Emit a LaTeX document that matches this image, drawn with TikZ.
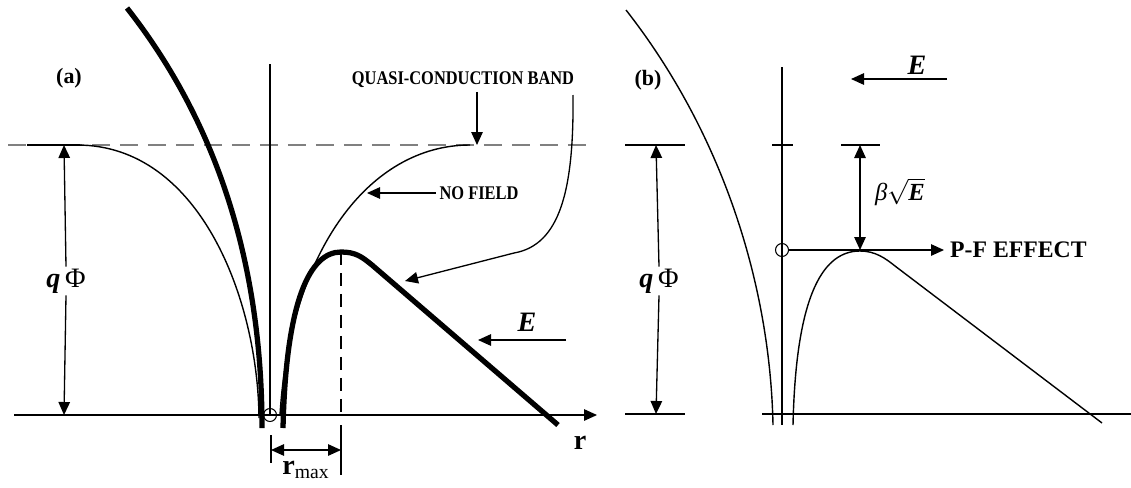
\documentclass[tikz,border=0pt]{standalone}
\usepackage{fontspec}
\usepackage{graphicx}
\setmainfont{Liberation Serif}
\usetikzlibrary{arrows.meta}

\begin{document}
\begin{tikzpicture}[
    x=0.02cm, y=-0.02cm,
    >={Triangle[length=2.6mm, width=2.3mm]},
    potline/.style={line width=0.8pt},
    fieldline/.style={line width=3pt},
    bandline/.style={draw=black!50, line width=0.9pt, dash pattern=on 3.6mm off 2mm},
    guideline/.style={line width=0.75pt, dash pattern=on 2.6mm off 1.6mm},
    dimline/.style={<->, line width=0.75pt},
    pointer/.style={->, line width=0.75pt},
    capstext/.style={font=\fontsize{11}{12}\selectfont\bfseries, inner sep=2pt},
    panellabel/.style={font=\fontsize{12.5}{14}\selectfont\bfseries},
    symtext/.style={font=\fontsize{16}{18}\selectfont, inner sep=1pt},
    ionsite/.style={circle, draw, line width=0.6pt, minimum size=2.6mm, inner sep=0pt},
]
\path[use as bounding box] (0,0) rectangle (1131,487);

\node[panellabel] (atag) at (69,78) {(a)};
\draw[bandline] (8,145) -- (587,145);
\draw[line width=0.75pt] (27,145) -- (80,145);
\draw[line width=0.75pt, ->] (14,415) -- (597,415);
\draw[line width=0.75pt] (270,64) -- (270,415);
\node[ionsite] (asite) at (270,415) {};
\node[symtext] (ar) at (580,443) {\textbf{r}};

\draw[potline] (77,145) .. controls (200,145) and (258,300) .. (259,418);
\draw[potline] (280,415) .. controls (290,250) and (370,145) .. (470,145);
\draw[fieldline] (127,8) .. controls (215,120) and (262,260) .. (262,428);
\draw[fieldline] (283,428) .. controls (286,300) and (310,252) .. (341,252)
    .. controls (356,252) and (362,257) .. (372,265) -- (558,425);

\coordinate (apeak) at (341,252);
\coordinate (apeakbase) at (341,415);
\draw[guideline] (apeak) -- (apeakbase);
\draw[line width=0.75pt] (271,435) -- (271,463);
\draw[line width=0.75pt] (341,425) -- (341,475);
\coordinate (rmaxl) at (271,450);
\coordinate (rmaxr) at (341,450);
\draw[dimline] (rmaxl) -- (rmaxr);
\node[symtext] (armax) at (306,470) {\textbf{r}\textsubscript{max}};

\node[symtext, fill=white] (aqphi) at (66,281) {\textbf{\textit{q}}\,Φ};
\coordinate (aqtop) at (64,145);
\coordinate (aqbot) at (64,415);
\draw[pointer] (aqphi.north) -- (aqtop);
\draw[pointer] (aqphi.south) -- (aqbot);

\node[capstext] (quasi) at (463,80) {\scalebox{0.85}[1]{QUASI-CONDUCTION BAND}};
\coordinate (quasiend) at (477,145);
\draw[pointer] (quasi.south -| quasiend) -- (quasiend);
\node[capstext] (nofield) at (479,193) {\scalebox{0.85}[1]{NO FIELD}};
\coordinate (nofieldend) at (367,193);
\draw[pointer] (nofield.west) -- (nofieldend);
\coordinate (wiretop) at (573,95);
\coordinate (wiretip) at (405,281);
\draw[pointer] (wiretop) .. controls (574,190) and (560,245) .. (514,253) -- (wiretip);

\node[symtext] (aE) at (527,322) {\textbf{\textit{E}}};
\coordinate (aEfrom) at (566,340);
\coordinate (aEto) at (478,340);
\draw[pointer] (aEfrom) -- (aEto);

\node[panellabel] (btag) at (648,80) {(b)};
\draw[line width=0.75pt] (762,414) -- (1131,414);
\draw[line width=0.75pt] (782,67) -- (782,425);
\draw[line width=0.75pt] (625,145) -- (685,145);
\draw[line width=0.75pt] (625,414) -- (685,414);
\draw[line width=0.75pt] (772,145) -- (793,145);
\draw[line width=0.75pt] (841,145) -- (880,145);
\draw[potline] (626,10) .. controls (720,130) and (770,280) .. (773,425);
\draw[potline] (793,425) .. controls (796,290) and (825,251) .. (860,251)
    .. controls (875,251) and (885,258) .. (895,266) -- (1102,423);

\node[symtext, fill=white] (bqphi) at (659,281) {\textbf{\textit{q}}\,Φ};
\coordinate (bqtop) at (656,145);
\coordinate (bqbot) at (656,414);
\draw[pointer] (bqphi.north) -- (bqtop);
\draw[pointer] (bqphi.south) -- (bqbot);

\coordinate (bbartop) at (860,145);
\coordinate (bpeak) at (860,250);
\draw[dimline] (bbartop) -- (bpeak);
\node[symtext, font=\fontsize{14}{16}\selectfont] (bbeta) at (900,192) {\textit{β}$\sqrt{\hbox{\textbf{\textit{E}}}}$};

\node[ionsite] (bsite) at (782,250) {};
\node[font=\fontsize{13.5}{15}\selectfont\bfseries, anchor=west] (pf) at (944,250) {P-F EFFECT};
\draw[pointer] (bsite.east) -- (pf.west);

\node[symtext] (bE) at (917,65) {\textbf{\textit{E}}};
\coordinate (bEfrom) at (947,79);
\coordinate (bEto) at (851,79);
\draw[pointer] (bEfrom) -- (bEto);
\end{tikzpicture}
\end{document}
